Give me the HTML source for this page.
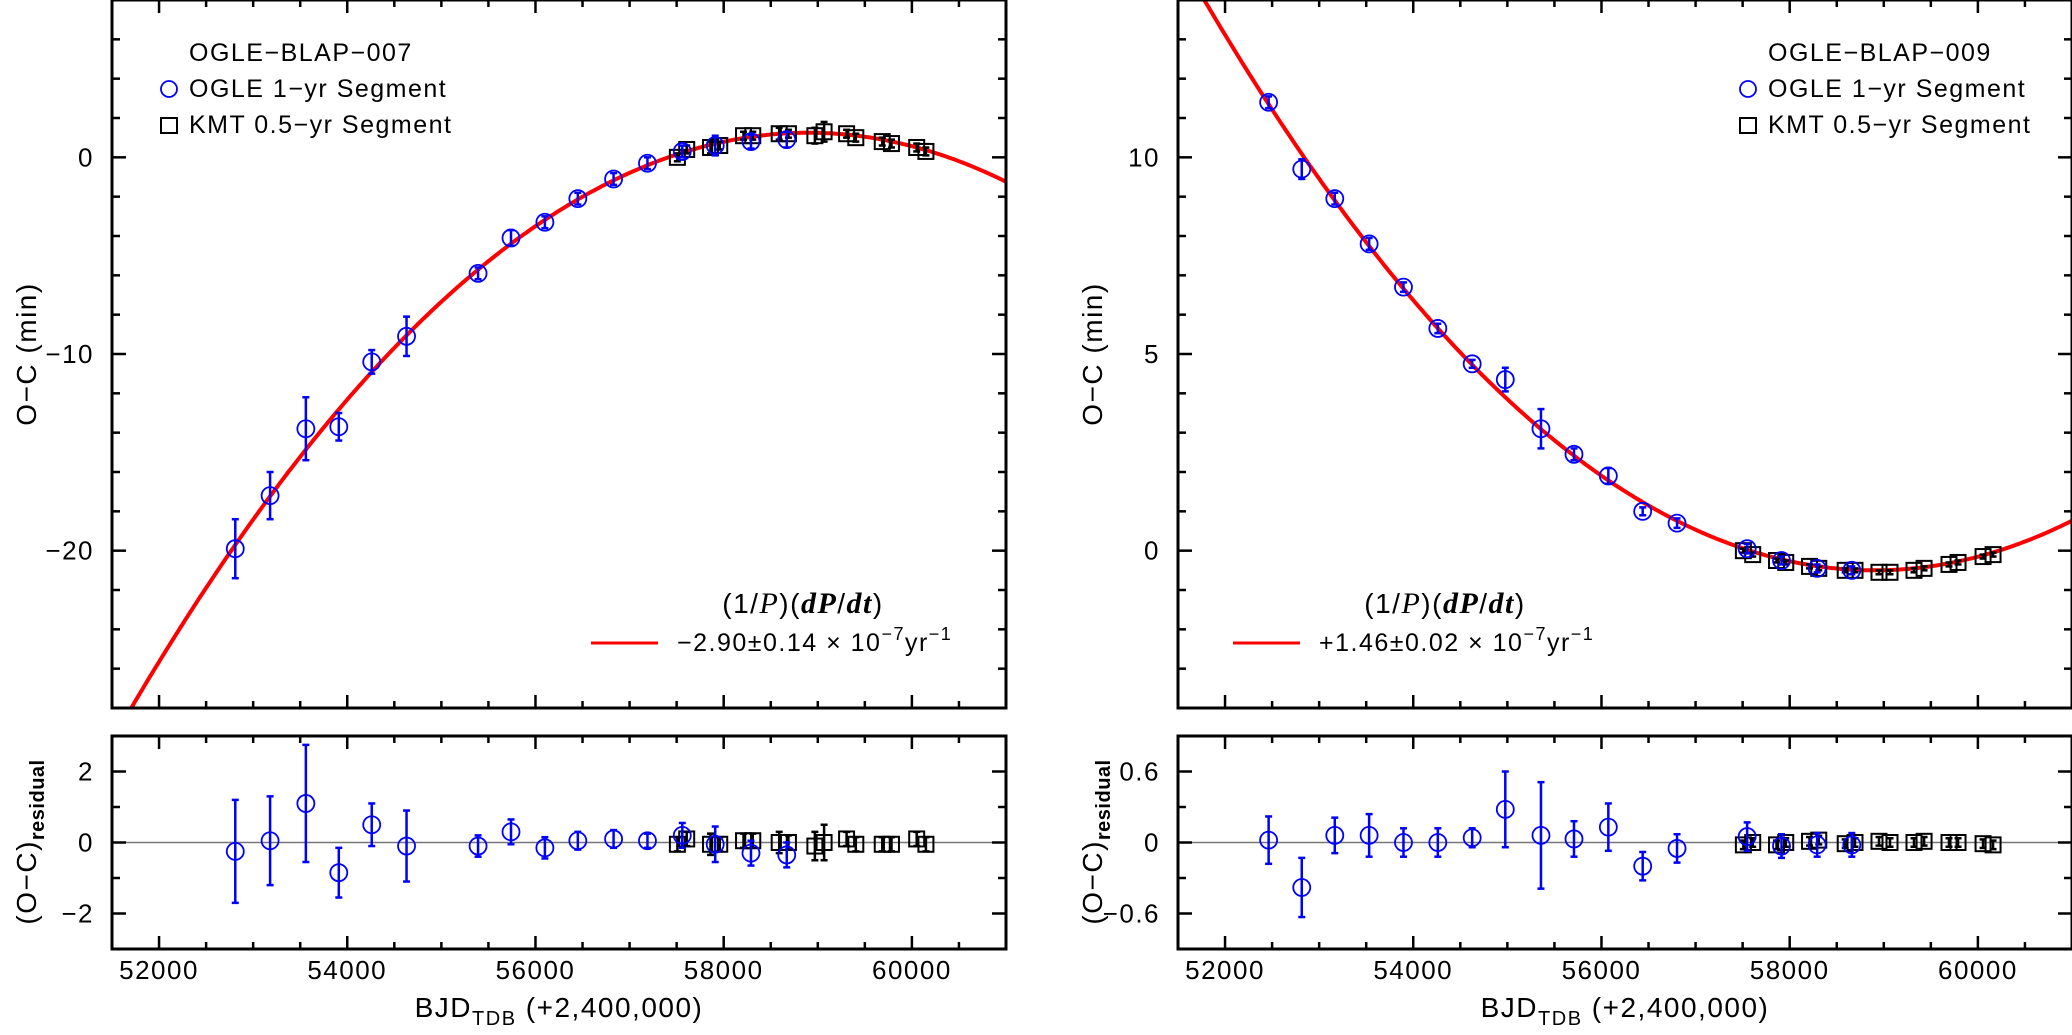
<!DOCTYPE html>
<html><head><meta charset="utf-8">
<style>
body{margin:0;background:#fff;width:2072px;height:1030px;overflow:hidden}
svg text{font-family:"Liberation Sans",sans-serif;fill:#000;letter-spacing:1.5px}
</style></head>
<body>
<svg id="fig" width="2072" height="1030" xmlns="http://www.w3.org/2000/svg"></svg>
<script>
// ---- Data: OGLE-BLAP-007 (left) ----
const ogleX7 = [52810,53180,53560,53910,54260,54630,55390,55740,56100,56450,56830,57190,57560,57910,58290,58670];
const ogleY7 = [-19.9,-17.2,-13.8,-13.7,-10.4,-9.1,-5.9,-4.1,-3.3,-2.1,-1.1,-0.3,0.3,0.6,0.8,0.9];
const ogleE7 = [1.5,1.2,1.6,0.7,0.6,1.0,0.3,0.4,0.3,0.3,0.3,0.3,0.3,0.5,0.35,0.4];
const ogleR7 = [-0.25,0.05,1.1,-0.85,0.5,-0.1,-0.1,0.3,-0.15,0.05,0.1,0.05,0.2,-0.05,-0.3,-0.35];
const ogleRE7 = [1.45,1.25,1.65,0.7,0.6,1.0,0.3,0.35,0.3,0.25,0.25,0.2,0.35,0.5,0.35,0.35];
const kmtX7 = [57508,57607,57860,57958,58211,58309,58590,58688,58969,59067,59306,59404,59685,59783,60051,60149];
const kmtY7 = [0.0,0.4,0.5,0.6,1.1,1.1,1.2,1.2,1.1,1.3,1.2,1.0,0.8,0.7,0.5,0.3];
const kmtE7 = [0.2,0.2,0.3,0.2,0.2,0.2,0.3,0.2,0.4,0.5,0.2,0.2,0.2,0.2,0.2,0.2];
const kmtR7 = [-0.05,0.1,-0.05,-0.05,0.05,0.05,0.0,0.0,-0.1,0.0,0.1,-0.05,-0.05,-0.05,0.1,-0.05];
const fit7 = [58900,1.25,-5.65e-7]; // vertex x, vertex y, curvature
// ---- Data: OGLE-BLAP-009 (right) ----
const ogleX9 = [52463,52815,53166,53531,53896,54261,54626,54978,55357,55708,56073,56438,56803,57548,57913,58292,58660];
const ogleY9 = [11.4,9.7,8.95,7.8,6.7,5.65,4.75,4.35,3.1,2.45,1.9,1.0,0.7,0.05,-0.25,-0.45,-0.5];
const ogleE9 = [0.15,0.25,0.15,0.15,0.12,0.12,0.1,0.3,0.5,0.15,0.2,0.1,0.12,0.12,0.1,0.1,0.1];
const ogleR9 = [0.02,-0.38,0.06,0.06,0.0,0.0,0.04,0.28,0.06,0.03,0.13,-0.2,-0.05,0.05,-0.03,-0.02,-0.02];
const ogleRE9 = [0.2,0.25,0.15,0.18,0.12,0.12,0.08,0.32,0.45,0.15,0.2,0.12,0.12,0.12,0.1,0.1,0.1];
const kmtX9 = [57508,57607,57860,57958,58211,58309,58590,58694,58949,59066,59321,59428,59693,59789,60055,60161];
const kmtY9 = [0.0,-0.1,-0.25,-0.3,-0.4,-0.45,-0.5,-0.5,-0.55,-0.55,-0.5,-0.45,-0.35,-0.3,-0.15,-0.1];
const kmtE9 = [0.05,0.05,0.05,0.05,0.05,0.05,0.05,0.05,0.05,0.05,0.05,0.05,0.05,0.05,0.05,0.05];
const kmtR9 = [-0.02,0.0,-0.02,0.0,0.01,0.02,-0.01,0.0,0.01,0.0,0.0,0.01,0.0,0.0,-0.01,-0.02];
const fit9 = [58900,-0.5,2.86e-7];
const xTicks = [52000,54000,56000,58000,60000];
const yTicks7 = [-20,-10,0];
const rTicks7 = [-2,0,2];
const yTicks9 = [0,5,10];
const rTicks9 = [-0.6,0,0.6];

const NS="http://www.w3.org/2000/svg";
const svg=document.getElementById('fig');
function mk(tag,attrs,parent){const e=document.createElementNS(NS,tag);for(const k in attrs)e.setAttribute(k,attrs[k]);(parent||svg).appendChild(e);return e;}
function fmt(v){return (v<0?'\u2212':'')+Math.abs(v);}

function panel(P){
  const g=mk('g',{});
  
  
  const L=P.left,R=P.left+894;
  const xs=v=>L+(v-51500)/9500*894;
  const T0=0,T1=708,B0=736,B1=949;
  const ys=v=>T0+(P.yMax-v)/(P.yMax-P.yMin)*(T1-T0);
  const rs=v=>B0+(P.rMax-v)/(2*P.rMax)*(B1-B0);
  const zl=mk('line',{x1:L,x2:R,y1:rs(0),y2:rs(0),stroke:'#777','stroke-width':1.5},g);
  
  
  let d='';
  for(let x=51500;x<=61000;x+=25){const y=P.fit[1]+P.fit[2]*(x-P.fit[0])**2;d+=(d?'L':'M')+xs(x).toFixed(1)+','+ys(y).toFixed(1);}
  const cp=mk('clipPath',{id:'c'+P.id},g);mk('rect',{x:L,y:T0,width:894,height:T1-T0},cp);
  const fc=mk('path',{d:d,fill:'none',stroke:'#f00','stroke-width':4,'clip-path':'url(#c'+P.id+')'},g);
  
  
  function errbar(x,y,e,sc,col){
    const X=xs(x),y1=sc(y+e),y2=sc(y-e);
    mk('line',{x1:X,x2:X,y1:y1,y2:y2,stroke:col,'stroke-width':2.5},g);
    mk('line',{x1:X-3.5,x2:X+3.5,y1:y1,y2:y1,stroke:col,'stroke-width':2.5},g);
    mk('line',{x1:X-3.5,x2:X+3.5,y1:y2,y2:y2,stroke:col,'stroke-width':2.5},g);
  }
  function sq(x,y,e,sc){
    errbar(x,y,e,sc,'#000');
    const s=mk('rect',{x:xs(x)-7.5,y:sc(y)-7.5,width:15,height:15,fill:'none',stroke:'#000','stroke-width':2},g);
    
    
  }
  function ci(x,y,e,sc){
    errbar(x,y,e,sc,'#00f');
    const c=mk('circle',{cx:xs(x),cy:sc(y),r:8.5,fill:'none',stroke:'#00f','stroke-width':1.8},g);
    
    
  }
  P.kx.forEach((x,i)=>{sq(x,P.ky[i],P.ke[i],ys);sq(x,P.kr[i],Math.max(0.04*P.rMax,P.ke[i]*P.rMax/3),rs);});
  P.ox.forEach((x,i)=>{ci(x,P.oy[i],P.oe[i],ys);ci(x,P.or[i],P.ore[i],rs);});
  [[T0,T1],[B0,B1]].forEach(([a,b])=>{
    const f=mk('rect',{x:L,y:a,width:894,height:b-a,fill:'none',stroke:'#000','stroke-width':3},g);
    
    
    for(let x=52000;x<=61000;x+=500){const maj=x%2000===0;const len=maj?13:7;
      mk('line',{x1:xs(x),x2:xs(x),y1:a,y2:a+len,stroke:'#000','stroke-width':2.5},g);
      mk('line',{x1:xs(x),x2:xs(x),y1:b,y2:b-len,stroke:'#000','stroke-width':2.5},g);}
  });
  for(let v=Math.ceil(P.yMin/P.yMinor)*P.yMinor;v<=P.yMax+1e-9;v+=P.yMinor){
    const maj=P.yTicks.some(t=>Math.abs(t-v)<1e-6);const len=maj?14:8;const Y=ys(v);
    mk('line',{x1:L,x2:L+len,y1:Y,y2:Y,stroke:'#000','stroke-width':2.5},g);
    mk('line',{x1:R,x2:R-len,y1:Y,y2:Y,stroke:'#000','stroke-width':2.5},g);}
  P.yTicks.forEach(v=>{const t=mk('text',{x:L-18,y:ys(v)+9,'text-anchor':'end','font-size':26},g);t.textContent=fmt(v);
    });
  for(let v=-P.rMax;v<=P.rMax+1e-9;v+=P.rMinor){
    const maj=P.rTicks.some(t=>Math.abs(t-v)<1e-6);const len=maj?14:8;const Y=rs(v);
    if(Y<=B0+1||Y>=B1-1)continue;
    mk('line',{x1:L,x2:L+len,y1:Y,y2:Y,stroke:'#000','stroke-width':2.5},g);
    mk('line',{x1:R,x2:R-len,y1:Y,y2:Y,stroke:'#000','stroke-width':2.5},g);}
  P.rTicks.forEach(v=>{const t=mk('text',{x:L-18,y:rs(v)+9,'text-anchor':'end','font-size':26},g);t.textContent=fmt(v);
    });
  xTicks.forEach(v=>{const t=mk('text',{x:xs(v),y:979,'text-anchor':'middle','font-size':26},g);t.textContent=v;
    });
  const xt=mk('text',{x:L+447,y:1017,'text-anchor':'middle','font-size':28,'letter-spacing':'2.5px'},g);
  xt.innerHTML='BJD<tspan font-size="20" dy="8">TDB</tspan><tspan dy="-8"> (+2,400,000)</tspan>';
  
  const yt=mk('text',{transform:`translate(${L-76},354) rotate(-90)`,'text-anchor':'middle','font-size':28,'letter-spacing':'2.5px'},g);
  yt.textContent='O\u2212C  (min)';
  
  const rt=mk('text',{transform:`translate(${L-76},842) rotate(-90)`,'text-anchor':'middle','font-size':28,'letter-spacing':'2px'},g);
  rt.innerHTML='(O\u2212C)<tspan font-size="20" dy="8" font-weight="bold" letter-spacing="0.5px">residual</tspan>';
  
  const lg=mk('g',{},g);
  const lx=P.legX;
  const t1=mk('text',{x:lx+20,y:61,'font-size':25,'letter-spacing':'2.2px'},lg);t1.textContent=P.title;
  
  mk('circle',{cx:lx,cy:89,r:8,fill:'none',stroke:'#00f','stroke-width':1.8},lg);
  const t2=mk('text',{x:lx+20,y:97,'font-size':25,'letter-spacing':'2.2px'},lg);t2.textContent='OGLE 1\u2212yr Segment';
  
  mk('rect',{x:lx-8,y:118,width:16,height:15,fill:'none',stroke:'#000','stroke-width':2},lg);
  const t3=mk('text',{x:lx+20,y:133,'font-size':25,'letter-spacing':'2.2px'},lg);t3.textContent='KMT 0.5\u2212yr Segment';
  
  const fx=P.fx;
  const f1=mk('text',{x:fx+212,y:613,'text-anchor':'middle','font-size':28,'letter-spacing':'1px'},g);
  f1.innerHTML='(1/<tspan font-family="Liberation Serif" font-style="italic" font-size="30">P</tspan>)(<tspan font-family="Liberation Serif" font-style="italic" font-weight="bold" font-size="30">dP</tspan>/<tspan font-family="Liberation Serif" font-style="italic" font-weight="bold" font-size="30">dt</tspan>)';
  
  const fl=mk('line',{x1:fx,x2:fx+67,y1:643,y2:643,stroke:'#f00','stroke-width':3},g);
  
  const f2=mk('text',{x:fx+86,y:651,'font-size':25},g);
  f2.innerHTML=P.rate+' \u00d7 10<tspan font-size="18" dy="-11">\u22127</tspan><tspan dy="11">yr</tspan><tspan font-size="18" dy="-11">\u22121</tspan>';
  
}
panel({id:'a',name:'panel-blap-007',left:112,yMin:-28,yMax:8,yMinor:2,yTicks:yTicks7,rMax:3,rMinor:1,rTicks:rTicks7,
  ox:ogleX7,oy:ogleY7,oe:ogleE7,or:ogleR7,ore:ogleRE7,kx:kmtX7,ky:kmtY7,ke:kmtE7,kr:kmtR7,fit:fit7,
  title:'OGLE\u2212BLAP\u2212007',legX:169,fx:591,rate:'\u22122.90\u00b10.14'});
panel({id:'b',name:'panel-blap-009',left:1178,yMin:-4,yMax:14,yMinor:1,yTicks:yTicks9,rMax:0.9,rMinor:0.3,rTicks:rTicks9,
  ox:ogleX9,oy:ogleY9,oe:ogleE9,or:ogleR9,ore:ogleRE9,kx:kmtX9,ky:kmtY9,ke:kmtE9,kr:kmtR9,fit:fit9,
  title:'OGLE\u2212BLAP\u2212009',legX:1748,fx:1233,rate:'+1.46\u00b10.02'});
</script>
</body></html>
